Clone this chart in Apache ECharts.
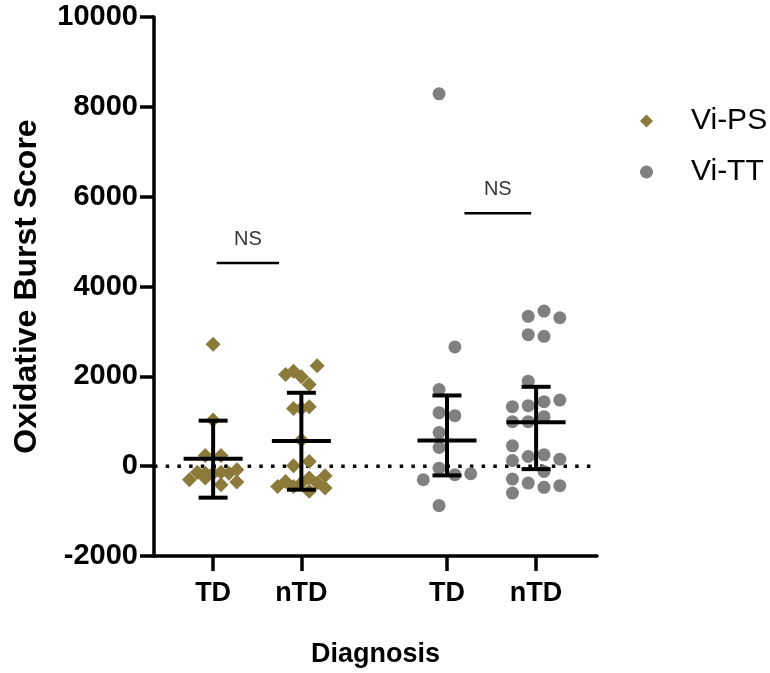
<!DOCTYPE html>
<html lang="en">
<head>
<meta charset="UTF-8">
<title>Oxidative Burst Score</title>
<script src="https://cdn.jsdelivr.net/npm/echarts@6/dist/echarts.min.js"></script>
<style>html,body{margin:0;padding:0;background:#fff;}</style>
</head>
<body>
<div id="chart" style="width:770px;height:673px;"></div>
<script>
// groups on the x axis
var groupLabels = ['TD', 'nTD', 'TD', 'nTD'];
var groupX = [1, 2, 3.65, 4.66];

// Vi-PS, TD / nTD
var tdPs = [2714, 1029, 237, 237, -133, -155, -155, -133, -155, -80, -302, -266, -412, -355];
var ntdPs = [2233, 2040, 2115, 1989, 1818, 1286, 1286, 1324, 585, 9, 104, -213, -450, -339, -450, -377, -266, -561, -377, -488];
// Vi-TT, TD / nTD
var tdTt = [8290, 2654, 1707, 1191, 1124, 747, 415, -44, -191, -169, -302, -878];
var ntdTt = [3335, 3452, 3304, 2927, 2891, 1893, 1324, 1346, 1435, 1472, 991, 991, 1102, 452, 126, 215, 253, 155, -118, -288, -377, -472, -435, -599];

// spread column of each dot (scatter-dot-plot layout)
var tdPsCol = [0, 0, -1, 1, -2, -1, 0, 1, 2, 3, -3, -1, 1, 3];
var ntdPsCol = [2, -2, -1, 0, 1, -1, 0, 1, 0, -1, 1, 3, -3, -2, -1, 0, 1, 1, 2, 3];
var tdTtCol = [-1, 1, -1, -1, 1, -1, -1, -1, 1, 3, -3, -1];
var ntdTtCol = [-1, 1, 3, -1, 1, -1, -3, -1, 1, 3, -3, -1, 1, -3, -3, -1, 1, 3, 1, -3, -1, 1, 3, -3];

// centre line and whiskers per group
var barMid = [164, 563, 570, 976];
var barLow = [-701, -523, -206, -66];
var barHigh = [1013, 1634, 1574, 1767];

// significance brackets
var sigFrom = [1.04, 3.848];
var sigTo = [1.747, 4.604];
var sigY = [4523, 5632];
var sigText = ['NS', 'NS'];

var colStep = 0.0895;
var psColor = '#8c7a3a';
var ttColor = '#808080';

function spread(vals, cols, gx) {
    var out = [];
    for (var i = 0; i < vals.length; i++) {
        out.push([gx + cols[i] * colStep, vals[i]]);
    }
    return out;
}

var psData = spread(tdPs, tdPsCol, groupX[0]).concat(spread(ntdPs, ntdPsCol, groupX[1]));
var ttData = spread(tdTt, tdTtCol, groupX[2]).concat(spread(ntdTt, ntdTtCol, groupX[3]));

var barData = [];
for (var i = 0; i < groupX.length; i++) {
    barData.push([groupX[i], barMid[i], barLow[i], barHigh[i]]);
}

var series = [
    {
        name: 'zero',
        type: 'line',
        data: [[0.33, 0], [5.35, 0]],
        showSymbol: false,
        silent: true,
        z: 1,
        lineStyle: { color: '#000', width: 3.5, type: [3.5, 8.2] }
    },
    {
        name: 'Vi-PS',
        type: 'scatter',
        symbol: 'diamond',
        symbolSize: 15,
        data: psData,
        z: 2,
        itemStyle: { color: psColor, opacity: 1 }
    },
    {
        name: 'Vi-TT',
        type: 'scatter',
        symbol: 'circle',
        symbolSize: 13,
        data: ttData,
        z: 2,
        itemStyle: { color: ttColor, opacity: 1 }
    },
    {
        name: 'bars',
        type: 'custom',
        data: barData,
        z: 5,
        encode: { x: 0, y: [1, 2, 3] },
        renderItem: function (params, api) {
            var x = api.value(0);
            var mid = api.coord([x, api.value(1)]);
            var lo = api.coord([x, api.value(2)]);
            var hi = api.coord([x, api.value(3)]);
            var st = { stroke: '#000', lineWidth: 4 };
            return {
                type: 'group',
                children: [
                    { type: 'line', shape: { x1: lo[0], y1: lo[1], x2: hi[0], y2: hi[1] }, style: st },
                    { type: 'line', shape: { x1: hi[0] - 14.5, y1: hi[1], x2: hi[0] + 14.5, y2: hi[1] }, style: st },
                    { type: 'line', shape: { x1: lo[0] - 14.5, y1: lo[1], x2: lo[0] + 14.5, y2: lo[1] }, style: st },
                    { type: 'line', shape: { x1: mid[0] - 29.5, y1: mid[1], x2: mid[0] + 29.5, y2: mid[1] }, style: st }
                ]
            };
        }
    }
];

for (var k = 0; k < sigY.length; k++) {
    series.push({
        name: 'sig' + k,
        type: 'line',
        data: [[sigFrom[k], sigY[k]], [sigTo[k], sigY[k]]],
        showSymbol: false,
        silent: true,
        z: 4,
        lineStyle: { color: '#000', width: 2.5 }
    });
}

var sigLabelData = [];
for (var k = 0; k < sigY.length; k++) {
    sigLabelData.push({ value: [(sigFrom[k] + sigTo[k]) / 2, sigY[k] + 530], name: sigText[k] });
}
series.push({
    name: 'sigText',
    type: 'scatter',
    data: sigLabelData,
    symbolSize: 1,
    silent: true,
    z: 4,
    itemStyle: { color: 'rgba(0,0,0,0)' },
    label: {
        show: true,
        position: 'inside',
        formatter: function (p) { return p.name; },
        color: '#000',
        fontSize: 20,
        fontFamily: 'Liberation Sans'
    }
});

var myChart = echarts.init(document.getElementById('chart'));
myChart.setOption({
    animation: false,
    backgroundColor: '#fff',
    textStyle: { fontFamily: 'Liberation Sans' },
    grid: { left: 154, right: 173, top: 17, bottom: 114 },
    legend: {
        data: ['Vi-PS', 'Vi-TT'],
        orient: 'vertical',
        left: 640,
        top: 106,
        padding: 0,
        itemWidth: 13,
        itemHeight: 13,
        itemGap: 21,
        textStyle: { fontSize: 30, lineHeight: 30, color: '#000', fontFamily: 'Liberation Sans', padding: [0, 0, 0, 33] }
    },
    xAxis: {
        type: 'value',
        min: 0.33,
        max: 5.35,
        name: 'Diagnosis',
        nameLocation: 'middle',
        nameGap: 85,
        nameTextStyle: { fontSize: 27, fontWeight: 'bold', color: '#000', fontFamily: 'Liberation Sans' },
        splitLine: { show: false },
        axisLine: { onZero: false, lineStyle: { color: '#000', width: 3.5 } },
        axisTick: { length: 15, lineStyle: { color: '#000', width: 3.5 }, customValues: groupX },
        axisLabel: {
            customValues: groupX,
            margin: 24,
            fontSize: 27,
            fontWeight: 'bold',
            color: '#000',
            formatter: function (v) {
                for (var i = 0; i < groupX.length; i++) {
                    if (Math.abs(groupX[i] - v) < 1e-6) return groupLabels[i];
                }
                return '';
            }
        }
    },
    yAxis: {
        type: 'value',
        min: -2000,
        max: 10000,
        interval: 2000,
        name: 'Oxidative Burst Score',
        nameLocation: 'middle',
        nameGap: 111,
        nameTextStyle: { fontSize: 32, fontWeight: 'bold', color: '#000', fontFamily: 'Liberation Sans' },
        splitLine: { show: false },
        axisLine: { show: true, lineStyle: { color: '#000', width: 3.5 } },
        axisTick: { show: true, length: 14, lineStyle: { color: '#000', width: 3.5 } },
        axisLabel: {
            margin: 16,
            fontSize: 29,
            fontWeight: 'bold',
            color: '#000',
            formatter: function (v) { return String(v); }
        }
    },
    series: series
});
</script>
</body>
</html>
